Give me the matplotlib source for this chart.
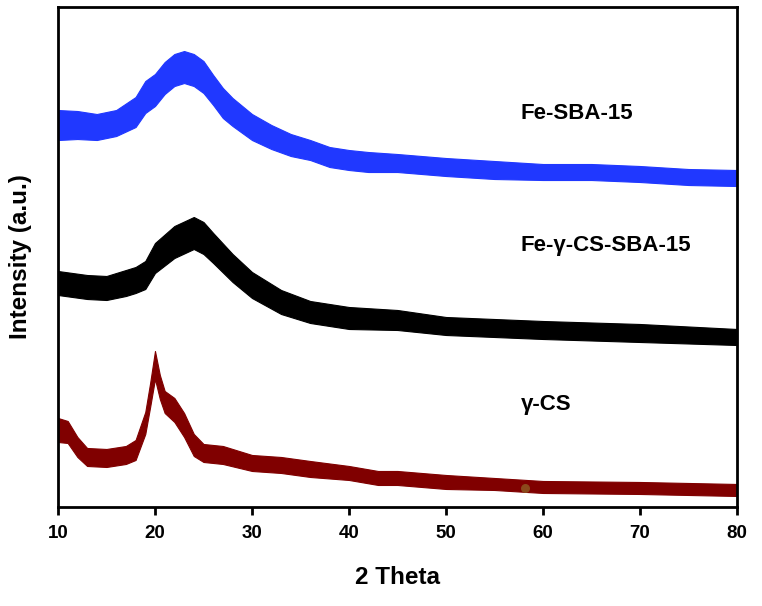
import numpy as np
import matplotlib.pyplot as plt

plt.rcParams['font.family'] = ['Liberation Sans', 'DejaVu Sans']
plt.rcParams['font.weight'] = 'bold'

# Fe-SBA-15 (blue): 2theta, band centre, band half width (a.u.)
fe_sba_x = [10, 12, 14, 16, 18, 19, 20, 21, 22, 23, 24, 25, 26, 27, 28, 30, 32, 34,
            36, 38, 40, 42, 45, 50, 55, 60, 65, 70, 75, 80]
fe_sba_y = [382, 382, 380, 384, 395, 410, 417, 429, 437, 440, 437, 430, 417, 404, 395,
            380, 370, 362, 357, 350, 347, 345, 344, 340, 337, 335, 335, 333, 330, 329]
fe_sba_hw = [15, 14, 13, 13, 15, 16, 16, 16, 16, 16, 16, 16, 15, 15, 14, 13, 12, 11,
             10, 10, 10, 10, 9, 9, 9, 8, 8, 8, 8, 8]

# Fe-γ-CS-SBA-15 (black)
fe_cs_x = [10, 13, 15, 17, 18, 19, 20, 22, 24, 25, 26, 28, 30, 33, 36, 40, 45, 50, 60, 70, 80]
fe_cs_y = [224, 220, 219, 224, 227, 232, 249, 265, 274, 269, 259, 239, 222, 205, 195,
           189, 187, 181, 177, 174, 170]
fe_cs_hw = [12, 12, 12, 13, 13, 14, 15, 16, 16, 16, 15, 14, 13, 12, 11, 11, 10, 9, 9, 9, 8]

# γ-CS (dark red)
cs_x = [10, 11, 12, 13, 15, 17, 18, 19, 19.5, 20, 20.5, 21, 22, 23, 24, 25, 27, 30, 33,
        36, 40, 43, 45, 50, 55, 60, 70, 80]
cs_y = [77, 75, 60, 50, 49, 52, 57, 84, 112, 142, 120, 105, 97, 82, 62, 54, 52, 44, 42,
        38, 34, 29, 29, 25, 23, 20, 19, 17]
cs_hw = [12, 11, 10, 9, 9, 9, 10, 11, 12, 14, 12, 11, 12, 12, 11, 9, 9, 8, 8, 8, 7, 7,
         7, 7, 6, 6, 6, 6]

labels = ['Fe-SBA-15', 'Fe-γ-CS-SBA-15', 'γ-CS']
label_y = [394, 262, 102]

fig = plt.figure(figsize=(7.62, 6.06), dpi=100)
ax = fig.add_axes([0.0761, 0.1634, 0.891, 0.825])

series = [(fe_sba_x, fe_sba_y, fe_sba_hw, '#2038ff'),
          (fe_cs_x, fe_cs_y, fe_cs_hw, 'black'),
          (cs_x, cs_y, cs_hw, '#800000')]
for x, y, hw, col in series:
    x = np.array(x)
    y = np.array(y)
    hw = np.array(hw)
    ax.fill_between(x, y - hw, y + hw, color=col, lw=0.8, edgecolor=col)

# stray dot on the red trace
ax.scatter([58.1], [19.3], s=30, color='#8b4a1c', zorder=3)

for lab, ly in zip(labels, label_y):
    ax.text(57.7, ly, lab, fontsize=16, fontweight='bold', ha='left', va='center')

ax.set_xlim(10, 80)
ax.set_ylim(0, 500)
ax.set_xticks([10, 20, 30, 40, 50, 60, 70, 80])
ax.set_yticks([])
ax.tick_params(axis='x', direction='out', length=6, width=2, labelsize=13.5, pad=7)
for lab in ax.get_xticklabels():
    lab.set_fontweight('bold')
for s in ax.spines.values():
    s.set_linewidth(2)

ax.set_xlabel('2 Theta', fontsize=17.5, fontweight='bold', labelpad=17)
ax.set_ylabel('Intensity (a.u.)', fontsize=17.5, fontweight='bold', labelpad=19)

fig.savefig('out.png', dpi=100)
